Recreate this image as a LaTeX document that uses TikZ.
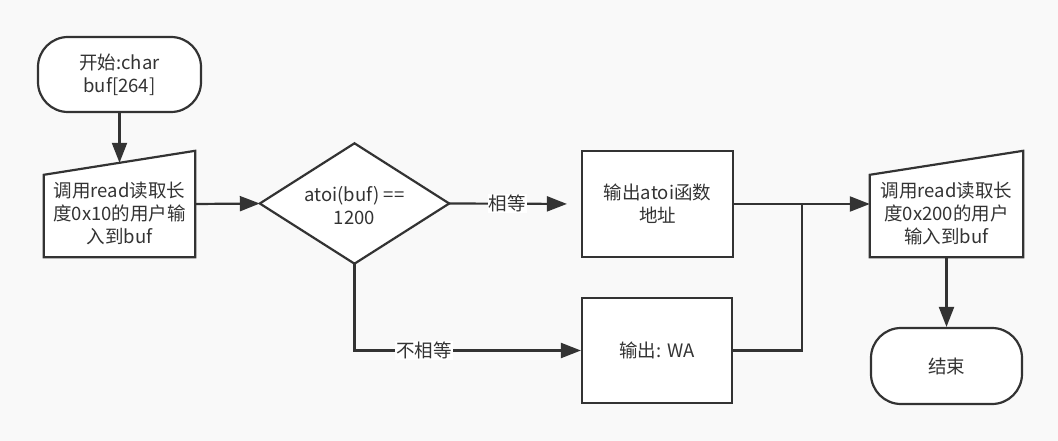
\documentclass[tikz,border=0pt]{standalone}
\usepackage{fontspec}
\setmainfont{Noto Sans CJK SC}
\usetikzlibrary{arrows.meta}
\definecolor{ink}{HTML}{333333}
\definecolor{bg}{HTML}{F9F9F9}
\begin{document}
\begin{tikzpicture}[x=1pt,y=-1pt,
  txt/.style={font=\fontsize{18.5}{23}\selectfont, text=ink, align=center, inner sep=0pt},
  frame/.style={draw=none, inner sep=0pt},
  box/.style={draw=ink, line width=2.2pt, fill=white, inner sep=0pt, minimum width=151pt, minimum height=106pt, txt},
  term/.style={draw=ink, line width=2.2pt, fill=white, rounded corners=30pt, inner sep=0pt, txt},
  shp/.style={draw=ink, line width=2.2pt, fill=white, line join=miter},
  conn/.style={draw=ink, line width=2.2pt},
  arr/.style={conn, -{Triangle[length=20pt,width=15pt]}},
  lbl/.style={txt, fill=white, inner sep=1pt}
]
\fill[bg] (0,0) rectangle (1058,441);

% start
\node[term, minimum width=163pt, minimum height=75pt] (start) at (119.5,74.5) {开始:char\\buf[264]};

% manual input 1
\node[frame, minimum width=151pt, minimum height=106pt] (m1) at (119.5,204) {};
\draw[shp] (m1.south west) -- ([yshift=-24pt]m1.north west) -- (m1.north east) -- (m1.south east) -- cycle;
\node[txt] (m1t) at (119.5,213) {调用read读取长\\度0x10的用户输\\入到buf};

% decision
\node[frame, minimum width=189pt, minimum height=120pt] (d) at (354.5,203.5) {};
\draw[shp] (d.west) -- (d.north) -- (d.east) -- (d.south) -- cycle;
\node[txt] (dt) at (354.5,206) {atoi(buf) ==\\1200};

% boxes
\node[box] (b1) at (657.5,204) {输出atoi函数\\地址};
\node[box, minimum width=150pt, minimum height=105pt] (b2) at (657,350.5) {输出: WA};

% manual input 2
\node[frame, minimum width=153pt, minimum height=106pt] (m2) at (946.5,204) {};
\draw[shp] (m2.south west) -- ([yshift=-24pt]m2.north west) -- (m2.north east) -- (m2.south east) -- cycle;
\node[txt] (m2t) at (946.5,213) {调用read读取长\\度0x200的用户\\输入到buf};

% end
\node[term, minimum width=151pt, minimum height=76pt] (end) at (946.5,366) {结束};

% connectors
\draw[arr] (start.south) -- ([yshift=-12pt]m1.north);
\draw[arr] (m1.east) -- (d.west);
\draw[arr, shorten >=14pt] (d.east) -- node[lbl, pos=0.44] {相等} (b1.west);
\draw[arr] (d.south) |- node[lbl, pos=0.654] {不相等} (b2.west);
\coordinate (j) at (802,204);
\draw[conn] (b2.east) -| (j);
\draw[arr] (b1.east) -- (m2.west);
\draw[arr] (m2.south) -- (end.north);
\end{tikzpicture}
\end{document}
